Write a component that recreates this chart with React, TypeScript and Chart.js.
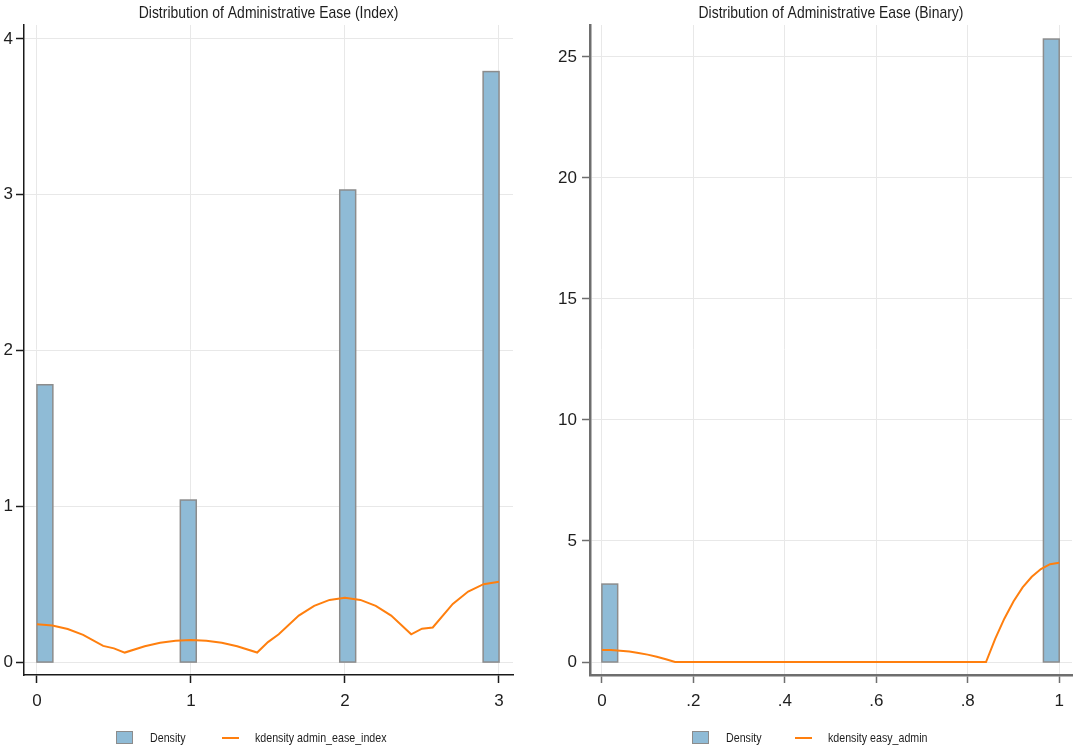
import React, { useEffect, useRef } from 'react';
import { Chart, registerables } from 'chart.js';

Chart.register(...registerables);

const FONT = "'Liberation Sans Narrow', 'Arial Narrow', 'Liberation Sans', Arial, sans-serif";

// ---- admin_ease_index ----
const indexTitle = 'Distribution of Administrative Ease (Index)';
const indexBinStarts = [0, 0.931, 1.966, 2.897];
const indexBinWidth = 0.1034;
const indexDensity = [1.78, 1.04, 3.03, 3.79];
const indexKdeX = [0, 0.1, 0.2, 0.3, 0.43, 0.5, 0.57, 0.7, 0.8, 0.9, 1.0, 1.1, 1.2, 1.3, 1.43, 1.5, 1.57, 1.7, 1.8, 1.9, 2.0, 2.1, 2.2, 2.3, 2.43, 2.5, 2.57, 2.7, 2.8, 2.9, 3.0];
const indexKdeY = [0.242, 0.235, 0.212, 0.175, 0.104, 0.088, 0.061, 0.102, 0.124, 0.137, 0.141, 0.137, 0.124, 0.102, 0.061, 0.128, 0.178, 0.298, 0.361, 0.399, 0.412, 0.399, 0.361, 0.298, 0.178, 0.214, 0.222, 0.373, 0.453, 0.5, 0.516];
const indexXTicks = [0, 1, 2, 3];
const indexXTickLabels = ['0', '1', '2', '3'];
const indexYTicks = [0, 1, 2, 3, 4];
const indexYTickLabels = ['0', '1', '2', '3', '4'];
const indexLegend = ['Density', 'kdensity admin_ease_index'];

// ---- easy_admin ----
const binaryTitle = 'Distribution of Administrative Ease (Binary)';
const binaryBinStarts = [0, 0.9655];
const binaryBinWidth = 0.0345;
const binaryDensity = [3.22, 25.74];
const binaryKdeX = [0, 0.02, 0.04, 0.06, 0.08, 0.1, 0.12, 0.14, 0.16, 0.84, 0.86, 0.88, 0.9, 0.92, 0.94, 0.96, 0.98, 1.0];
const binaryKdeY = [0.5, 0.492, 0.469, 0.43, 0.375, 0.305, 0.219, 0.117, 0, 0, 0.96, 1.79, 2.5, 3.08, 3.52, 3.84, 4.04, 4.1];
const binaryXTicks = [0, 0.2, 0.4, 0.6, 0.8, 1];
const binaryXTickLabels = ['0', '.2', '.4', '.6', '.8', '1'];
const binaryYTicks = [0, 5, 10, 15, 20, 25];
const binaryYTickLabels = ['0', '5', '10', '15', '20', '25'];
const binaryLegend = ['Density', 'kdensity easy_admin'];

const BAR_FILL = '#8fbbd6';
const BAR_EDGE = '#8c8c8c';
const KDE_COLOR = '#ff7f0e';
const GRID_COLOR = '#e8e8e8';
const TEXT_COLOR = '#1e1e1e';
const TEXT_SQUEEZE = 0.82;

// Histogram bars drawn from bin edges through the chart's own scales
const histogramPlugin = {
  id: 'histBars',
  beforeDatasetsDraw(chart: any, _args: any, opts: any) {
    const { ctx, chartArea, scales } = chart;
    ctx.save();
    ctx.beginPath();
    ctx.rect(chartArea.left, chartArea.top, chartArea.right - chartArea.left, chartArea.bottom - chartArea.top);
    ctx.clip();
    opts.starts.forEach((start: number, i: number) => {
      const x0 = scales.x.getPixelForValue(start);
      const x1 = scales.x.getPixelForValue(start + opts.width);
      const y0 = scales.y.getPixelForValue(0);
      const y1 = scales.y.getPixelForValue(opts.heights[i]);
      ctx.fillStyle = BAR_FILL;
      ctx.fillRect(x0, y1, x1 - x0, y0 - y1);
      ctx.strokeStyle = BAR_EDGE;
      ctx.lineWidth = 1.5;
      ctx.strokeRect(x0, y1, x1 - x0, y0 - y1);
    });
    ctx.restore();
  },
};

// Condensed text: draw with a horizontal squeeze around the anchor point
function squeezedText(ctx: CanvasRenderingContext2D, text: string, x: number, y: number) {
  ctx.save();
  ctx.translate(x, y);
  ctx.scale(TEXT_SQUEEZE, 1);
  ctx.fillText(text, 0, 0);
  ctx.restore();
}

// Title centred over the plot region, and a two-key legend underneath
const decorPlugin = {
  id: 'decor',
  afterDraw(chart: any, _args: any, opts: any) {
    const { ctx, chartArea } = chart;
    ctx.save();
    ctx.fillStyle = TEXT_COLOR;
    ctx.font = `17px ${FONT}`;
    ctx.textAlign = 'center';
    ctx.textBaseline = 'middle';
    squeezedText(ctx, opts.title, (chartArea.left + chartArea.right) / 2, 13);

    const ly = 738;
    ctx.fillStyle = BAR_FILL;
    ctx.fillRect(opts.boxX, ly - 7, 17, 13);
    ctx.strokeStyle = BAR_EDGE;
    ctx.lineWidth = 1;
    ctx.strokeRect(opts.boxX + 0.5, ly - 6.5, 16, 12);
    ctx.strokeStyle = KDE_COLOR;
    ctx.lineWidth = 2;
    ctx.beginPath();
    ctx.moveTo(opts.lineX, ly);
    ctx.lineTo(opts.lineX + 17, ly);
    ctx.stroke();

    ctx.fillStyle = TEXT_COLOR;
    ctx.font = `13px ${FONT}`;
    ctx.textAlign = 'left';
    squeezedText(ctx, opts.labels[0], opts.boxX + 34, ly);
    squeezedText(ctx, opts.labels[1], opts.lineX + 33, ly);
    ctx.restore();
  },
};

type PanelProps = {
  width: number;
  title: string;
  binStarts: number[];
  binWidth: number;
  density: number[];
  kdeX: number[];
  kdeY: number[];
  xTicks: number[];
  xTickLabels: string[];
  yTicks: number[];
  yTickLabels: string[];
  xMin: number;
  xMax: number;
  yMin: number;
  yMax: number;
  yAxisWidth: number;
  yTickPadding: number;
  padRight: number;
  axisColor: string;
  axisWidth: number;
  legend: string[];
  boxX: number;
  lineX: number;
};

function Panel(p: PanelProps) {
  const ref = useRef<HTMLCanvasElement>(null);
  useEffect(() => {
    if (!ref.current) return;
    const chart = new Chart(ref.current, {
      type: 'line',
      data: {
        datasets: [
          {
            label: p.legend[1],
            data: p.kdeX.map((x, i) => ({ x, y: p.kdeY[i] })),
            borderColor: KDE_COLOR,
            borderWidth: 2,
            pointRadius: 0,
            tension: 0,
            fill: false,
          },
        ],
      },
      options: {
        animation: false,
        responsive: false,
        devicePixelRatio: 1,
        layout: { padding: { left: 0, right: p.padRight, top: 25, bottom: 25 } },
        plugins: {
          legend: { display: false },
          title: { display: false },
          tooltip: { enabled: false },
          histBars: { starts: p.binStarts, width: p.binWidth, heights: p.density },
          decor: { title: p.title, labels: p.legend, boxX: p.boxX, lineX: p.lineX },
        } as any,
        scales: {
          x: {
            type: 'linear',
            min: p.xMin,
            max: p.xMax,
            afterBuildTicks: (s: any) => {
              s.ticks = p.xTicks.map((v) => ({ value: v }));
            },
            afterFit: (s: any) => {
              s.height = 50;
            },
            ticks: {
              autoSkip: false,
              maxRotation: 0,
              padding: 8,
              color: TEXT_COLOR,
              font: { family: FONT, size: 17 },
              callback: (v: any) => p.xTickLabels[p.xTicks.indexOf(Number(v))],
            },
            grid: { color: GRID_COLOR, lineWidth: 1, tickLength: 8, tickColor: p.axisColor, tickWidth: 1.5 },
            border: { color: p.axisColor, width: p.axisWidth },
          },
          y: {
            type: 'linear',
            min: p.yMin,
            max: p.yMax,
            afterBuildTicks: (s: any) => {
              s.ticks = p.yTicks.map((v) => ({ value: v }));
            },
            afterFit: (s: any) => {
              s.width = p.yAxisWidth;
            },
            ticks: {
              autoSkip: false,
              padding: p.yTickPadding,
              color: TEXT_COLOR,
              font: { family: FONT, size: 17 },
              callback: (v: any) => p.yTickLabels[p.yTicks.indexOf(Number(v))],
            },
            grid: { color: GRID_COLOR, lineWidth: 1, tickLength: 8, tickColor: p.axisColor, tickWidth: 1.5 },
            border: { color: p.axisColor, width: p.axisWidth },
          },
        },
      },
      plugins: [histogramPlugin, decorPlugin],
    } as any);
    return () => chart.destroy();
  }, []);
  return <canvas ref={ref} width={p.width} height={750} style={{ display: 'block' }} />;
}

export default function App() {
  return (
    <div style={{ position: 'absolute', left: 0, top: 0, width: 1073, height: 750, background: '#fff', display: 'flex' }}>
      <Panel
        width={536}
        title={indexTitle}
        binStarts={indexBinStarts}
        binWidth={indexBinWidth}
        density={indexDensity}
        kdeX={indexKdeX}
        kdeY={indexKdeY}
        xTicks={indexXTicks}
        xTickLabels={indexXTickLabels}
        yTicks={indexYTicks}
        yTickLabels={indexYTickLabels}
        xMin={-0.084}
        xMax={3.091}
        yMin={-0.083}
        yMax={4.089}
        yAxisWidth={24}
        yTickPadding={3}
        padRight={23}
        axisColor="#1a1a1a"
        axisWidth={1.5}
        legend={indexLegend}
        boxX={116}
        lineX={222}
      />
      <Panel
        width={537}
        title={binaryTitle}
        binStarts={binaryBinStarts}
        binWidth={binaryBinWidth}
        density={binaryDensity}
        kdeX={binaryKdeX}
        kdeY={binaryKdeY}
        xTicks={binaryXTicks}
        xTickLabels={binaryXTickLabels}
        yTicks={binaryYTicks}
        yTickLabels={binaryYTickLabels}
        xMin={-0.026}
        xMax={1.028}
        yMin={-0.537}
        yMax={26.32}
        yAxisWidth={54}
        yTickPadding={5}
        padRight={1}
        axisColor="#6e6e6e"
        axisWidth={2.5}
        legend={binaryLegend}
        boxX={156}
        lineX={259}
      />
    </div>
  );
}
